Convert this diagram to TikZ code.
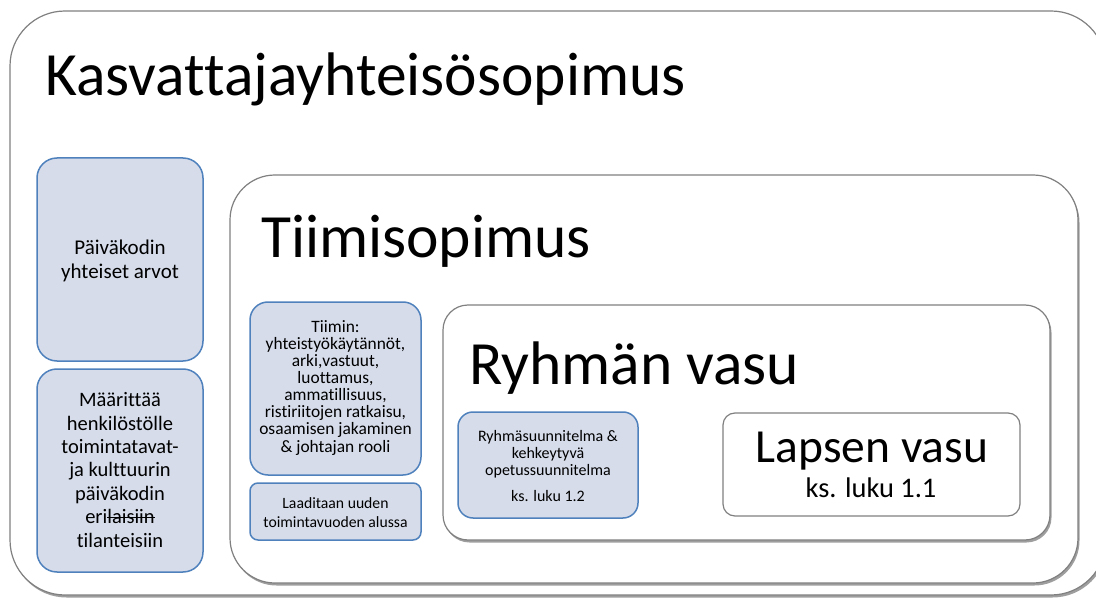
\documentclass[tikz,border=0pt]{standalone}
\usepackage{fontspec}
\setmainfont{Carlito}[Ligatures={NoCommon}]
\usetikzlibrary{shadows}
\definecolor{boxfill}{RGB}{214,220,234}
\definecolor{boxline}{RGB}{79,129,189}
\definecolor{frameline}{RGB}{128,128,128}
\newlength\strikelen
\newcommand\mystrike[1]{\settowidth\strikelen{#1}\rlap{\rule[0.28em]{\strikelen}{0.06em}}#1}
\begin{document}
\begin{tikzpicture}[x=1pt,y=-1pt,
  frame/.style={draw=frameline, line width=1.2pt, fill=white, inner sep=0pt,
    drop shadow={shadow xshift=1.5pt, shadow yshift=-2.5pt, opacity=0.38, fill=black}},
  bluebox/.style={draw=boxline, line width=1.5pt, fill=boxfill, inner sep=0pt},
  boxtext/.style={align=center, anchor=base, inner sep=0pt},
  bigtitle/.style={anchor=base west, font=\fontsize{61.5}{72}\selectfont, inner sep=0pt}]
\useasboundingbox (0,0) rectangle (1096,599);
% outer frame
\node[frame, rounded corners=55pt, minimum width=1096pt, minimum height=584pt] (outer) at (558,303) {};
\node[bigtitle] (outertitle) at (45,96) {Kasvattajayhteisösopimus};
% left blue boxes
\node[bluebox, rounded corners=20pt, minimum width=166pt, minimum height=203pt] (arvot) at (120,259.5) {};
\node[boxtext, font=\fontsize{21}{24}\selectfont] (arvottext) at (120,278) {Päiväkodin\\yhteiset arvot};
\node[bluebox, rounded corners=20pt, minimum width=166pt, minimum height=203pt] (maarittaa) at (120,470.5) {};
\node[boxtext, font=\fontsize{20.5}{23.4}\selectfont] (maarittaatext) at (120,547)
  {Määrittää\\henkilöstölle\\toimintatavat-\\ja kulttuurin\\päiväkodin\\eri\mystrike{laisiin}\\tilanteisiin};
% team frame
\node[frame, rounded corners=45pt, minimum width=848pt, minimum height=408pt] (tiimi) at (654,379) {};
\node[bigtitle] (tiimititle) at (261,258) {Tiimisopimus};
\node[bluebox, rounded corners=18pt, minimum width=171pt, minimum height=173pt] (tiimin) at (335.5,388.5) {};
\node[boxtext, font=\fontsize{17.4}{17.1}\selectfont] (tiimintext) at (335.5,452)
  {Tiimin:\\yhteistyökäytännöt,\\arki,vastuut,\\luottamus,\\ammatillisuus,\\ristiriitojen ratkaisu,\\osaamisen jakaminen\\\& johtajan rooli};
\node[bluebox, rounded corners=8pt, minimum width=171pt, minimum height=57pt] (laaditaan) at (335.5,511.5) {};
\node[boxtext, font=\fontsize{15.7}{19}\selectfont] (laaditaantext) at (335.5,527)
  {Laaditaan uuden\\toimintavuoden alussa};
% group frame
\node[frame, rounded corners=25pt, minimum width=607pt, minimum height=235pt] (ryhma) at (746.5,422.5) {};
\node[bigtitle] (ryhmatitle) at (469,384) {Ryhmän vasu};
\node[bluebox, rounded corners=15pt, minimum width=180pt, minimum height=106pt] (ryhsuun) at (548,465) {};
\node[boxtext, font=\fontsize{16}{17}\selectfont] (ryhsuuntext) at (548,475)
  {Ryhmäsuunnitelma \&\\kehkeytyvä\\opetussuunnitelma};
\node[boxtext, font=\fontsize{16}{17}\selectfont] (ryhsuunref) at (548,501) {ks. luku 1.2};
% child box
\node[draw=frameline, line width=1.2pt, fill=white, rounded corners=12pt, minimum width=297pt, minimum height=103pt] (lapsen) at (871.5,464.5) {};
\node[boxtext, font=\fontsize{47.5}{50}\selectfont] (lapsentitle) at (872,462) {Lapsen vasu};
\node[boxtext, font=\fontsize{28.4}{30}\selectfont] (lapsenref) at (871,497) {ks. luku 1.1};
\end{tikzpicture}
\end{document}
